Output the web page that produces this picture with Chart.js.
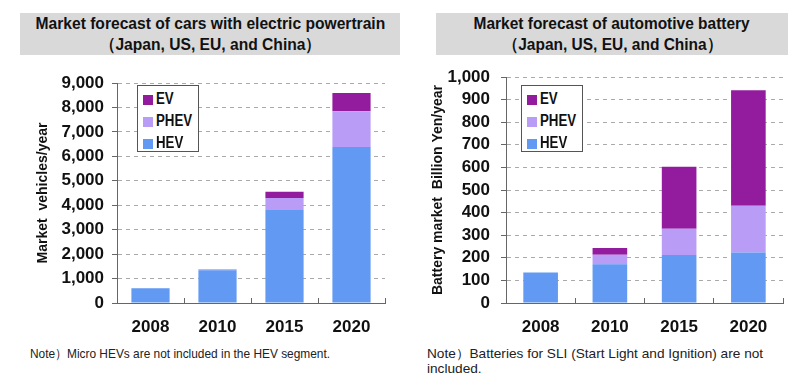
<!DOCTYPE html>
<html>
<head>
<meta charset="utf-8">
<script src="https://cdn.jsdelivr.net/npm/chart.js@4"></script>
<style>
  body { margin: 0; width: 800px; height: 381px; background: #fff; position: relative; overflow: hidden; }
  .box { position: absolute; }
  .title { position: absolute; background: #d9d9d9; text-align: center; font: bold 17px "Liberation Sans", sans-serif; line-height: 21px; color: #111; }
  .title span { display: inline-block; white-space: nowrap; transform-origin: center; }
  .legend { position: absolute; border: 1px solid #555; background: #fff; box-sizing: border-box; font: bold 16px "Liberation Sans", sans-serif; color: #111; padding: 2px 0 0 5px; }
  .legend div { height: 22px; line-height: 22px; white-space: nowrap; }
  .legend span { display: inline-block; width: 10px; height: 10px; margin-right: 3px; vertical-align: -1px; }
  .legend b { display: inline-block; transform: scaleX(0.83); transform-origin: left center; }
  .note { position: absolute; font: 13px "Liberation Sans", sans-serif; color: #222; line-height: 15px; white-space: nowrap; transform-origin: left top; }
  .note span { display: inline-block; }
</style>
</head>
<body>
<div class="title" style="left:20px; top:13px; width:380px; height:42px;"><span data-w="350">Market forecast of cars with electric powertrain</span><br><span>（Japan, US, EU, and China）</span></div>
<div class="title" style="left:436px; top:13px; width:352px; height:42px;"><span data-w="276">Market forecast of automotive battery</span><br><span>（Japan, US, EU, and China）</span></div>

<canvas id="carChart" class="box" style="left:0; top:0;" width="400" height="345"></canvas>
<canvas id="batChart" class="box" style="left:400px; top:0;" width="400" height="345"></canvas>

<div id="carLegend" class="legend" style="left:137px; top:85px; width:62px; height:67px;"></div>
<div id="batLegend" class="legend" style="left:521px; top:85px; width:62px; height:67px;"></div>

<div class="note" style="left:30px; top:346px;" data-w="300"><span>Note）Micro HEVs are not included in the HEV segment.</span></div>
<div class="note" style="left:427px; top:346px;" data-w="336"><span>Note）Batteries for SLI (Start Light and Ignition) are not</span><br>included.</div>

<script>
const years = ['2008', '2010', '2015', '2020'];
const seriesNames = ['HEV', 'PHEV', 'EV'];
const seriesColors = ['#6199F3', '#B89CF5', '#931C9E'];

// cars, vehicles/year
const carHEV = [600, 1340, 3800, 6380];
const carPHEV = [0, 30, 500, 1460];
const carEV = [0, 10, 250, 750];

// battery, billion yen/year
const batHEV = [135, 172, 212, 223];
const batPHEV = [0, 41, 117, 207];
const batEV = [0, 30, 274, 511];

const tickFont = { family: 'Liberation Sans', size: 17, weight: 'bold' };

// squeeze the title lines to the narrow width of the original
document.querySelectorAll('.title').forEach(t => {
  const spans = t.querySelectorAll('span');
  const k = spans[0].dataset.w / spans[0].offsetWidth;
  spans.forEach(s => { s.style.transform = `scaleX(${k})`; });
});
document.querySelectorAll('.note').forEach(n => {
  const k = n.dataset.w / n.querySelector('span').offsetWidth;
  n.style.transform = `scaleX(${k})`;
});

function makeLegend(id) {
  const el = document.getElementById(id);
  for (let i = seriesNames.length - 1; i >= 0; i--) {
    const row = document.createElement('div');
    row.innerHTML = `<span style="background:${seriesColors[i]}"></span><b>${seriesNames[i]}</b>`;
    el.appendChild(row);
  }
}

function makeChart(id, series, opts) {
  const ctx = document.getElementById(id).getContext('2d');
  return new Chart(ctx, {
    type: 'bar',
    data: {
      labels: years,
      datasets: series.map((d, i) => ({
        label: seriesNames[i],
        data: d,
        backgroundColor: seriesColors[i],
        borderWidth: 0,
        categoryPercentage: 1,
        barPercentage: opts.barPct
      }))
    },
    options: {
      responsive: false,
      animation: false,
      locale: 'en-US',
      layout: { padding: opts.padding },
      plugins: { legend: { display: false }, tooltip: { enabled: false } },
      scales: {
        x: {
          stacked: true,
          grid: { offset: true, drawOnChartArea: false, tickLength: -5, tickColor: '#666' },
          border: { color: '#666' },
          ticks: { color: '#111', font: tickFont, padding: 19 },
          afterFit: s => { s.height = 42; }
        },
        y: {
          stacked: true,
          min: 0,
          max: opts.max,
          grid: { color: '#aaa', tickLength: 5, tickColor: '#666' },
          border: { color: '#666', dash: [4, 4] },
          ticks: { stepSize: opts.step, autoSkip: false, color: '#111', font: tickFont, padding: opts.tickPad },
          title: { display: true, text: opts.yTitle, color: '#111', font: { family: 'Liberation Sans', size: 14, weight: 'bold' } },
          afterFit: s => { s.width = opts.yWidth; }
        }
      }
    }
  });
}

makeChart('carChart', [carHEV, carPHEV, carEV], {
  max: 9000, step: 1000, barPct: 0.57, tickPad: 8,
  yTitle: 'Market  vehicles/year',
  padding: { left: 31, top: 83, right: 15, bottom: 0 },
  yWidth: 86
});
makeChart('batChart', [batHEV, batPHEV, batEV], {
  max: 1000, step: 100, barPct: 0.5, tickPad: 11,
  yTitle: 'Battery market  Billion Yen/year',
  padding: { left: 26, top: 77, right: 17, bottom: 0 },
  yWidth: 80
});
makeLegend('carLegend');
makeLegend('batLegend');
</script>
</body>
</html>
